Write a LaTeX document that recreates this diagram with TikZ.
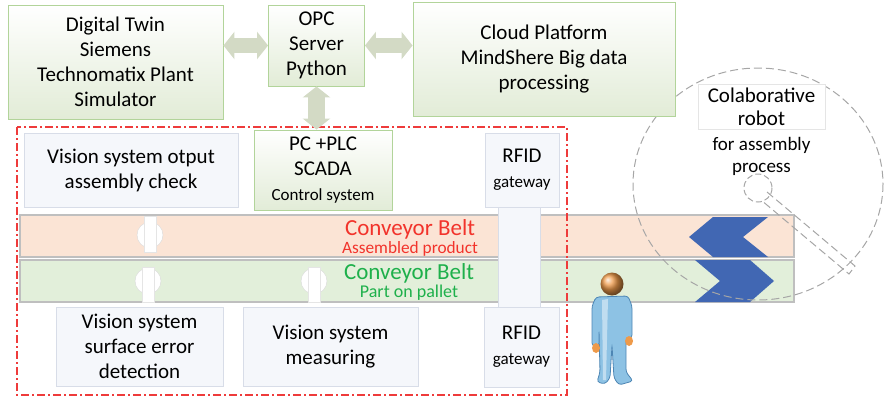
\documentclass[tikz,border=0pt]{standalone}
\usepackage{fontspec}
\setmainfont{Carlito}
\usetikzlibrary{arrows.meta, positioning}

\definecolor{BoxGreen}{HTML}{E2ECD7}
\definecolor{BoxEdge}{HTML}{B2D49A}
\definecolor{PanelFill}{HTML}{F5F7FB}
\definecolor{PanelEdge}{HTML}{D8DDE8}
\definecolor{ArrowGreen}{HTML}{D3DAC5}
\definecolor{BeltOrange}{HTML}{FBE4D5}
\definecolor{BeltGreen}{HTML}{E2EFDA}
\definecolor{BeltEdge}{HTML}{BFBFBF}
\definecolor{BeltRed}{HTML}{F2332B}
\definecolor{BeltGreenText}{HTML}{1EB04B}
\definecolor{FrameRed}{HTML}{EE3B3B}
\definecolor{ChevronBlue}{HTML}{4167B3}
\definecolor{RobotGray}{HTML}{A6A6A6}
\definecolor{PersonBlue}{HTML}{8DC2E4}
\definecolor{PersonEdge}{HTML}{4D86B4}
\definecolor{PersonSkin}{HTML}{EE9A4A}

\newcommand{\txtbig}{\fontsize{21}{25}\selectfont}
\newcommand{\txtmid}{\fontsize{19}{22}\selectfont}
\newcommand{\txtsmall}{\fontsize{17}{19}\selectfont}
\newcommand{\txtbelt}{\fontsize{23}{18}\selectfont}

\begin{document}
\begin{tikzpicture}[x=1pt, y=-1pt,
    greenbox/.style={draw=BoxEdge, line width=0.9pt, top color=white,
                     bottom color=BoxGreen, align=center, font=\txtbig},
    panelbox/.style={draw=PanelEdge, line width=0.9pt, fill=PanelFill,
                     align=center, font=\txtbig},
    beltbox/.style={draw=BeltEdge, line width=1.4pt, minimum width=774pt,
                    minimum height=42pt},
    fatarrow/.style={draw=ArrowGreen, line width=15pt,
                     {Triangle[width=27pt,length=11pt]}-{Triangle[width=27pt,length=11pt]}},
    robotline/.style={draw=RobotGray, line width=1pt, dash pattern=on 8pt off 4pt}]
  \useasboundingbox (0,0) rectangle (884,397);

  % Conveyor belts
  \node[beltbox, fill=BeltOrange] (beltup) at (407,236) {};
  \node[beltbox, fill=BeltGreen] (beltdown) at (407,281) {};

  % Camera sensors on the belts
  \filldraw[fill=white, draw=gray!30] (150,235) circle (13);
  \filldraw[fill=white, draw=gray!20] (144,216) rectangle (156,252);
  \filldraw[fill=white, draw=gray!30] (148,281) circle (13);
  \filldraw[fill=white, draw=gray!20] (142,267) rectangle (154,302);
  \filldraw[fill=white, draw=gray!30] (314,281) circle (13);
  \filldraw[fill=white, draw=gray!20] (308,267) rectangle (320,302);

  \node[font=\txtbelt, text=BeltRed, align=center] (labelup) at (410,238)
    {Conveyor Belt\\{\fontsize{17.3}{18}\selectfont Assembled product}};
  \node[font=\txtbelt, text=BeltGreenText, align=center] (labeldown) at (409,282)
    {Conveyor Belt\\{\fontsize{18}{18}\selectfont Part on pallet}};

  % Pallet direction marks
  \fill[ChevronBlue] (689,237) -- (713,217) -- (768,217) -- (743,237)
    -- (768,257) -- (713,257) -- cycle;
  \fill[ChevronBlue] (695,260) -- (750,260) -- (774,281) -- (750,302)
    -- (695,302) -- (720,281) -- cycle;

  % RFID gate across both belts
  \filldraw[fill=PanelFill, draw=PanelEdge] (498,207) rectangle (540,307);

  % Robot workspace and arm
  \draw[robotline] (758,184) ellipse [x radius=125, y radius=116];
  \draw[robotline, dash pattern=on 6pt off 3pt] (758,188) circle (14);
  \draw[robotline] (767,192) -- (855,266) -- (849,274) -- (761,200);

  % Upper level
  \node[greenbox, minimum width=215pt, minimum height=114pt] (twin) at (115.5,62)
    {Digital Twin\\Siemens\\Technomatix Plant\\Simulator};
  \node[greenbox, minimum width=96pt, minimum height=81pt] (opc) at (316.5,45.5)
    {OPC\\Server\\Python};
  \node[greenbox, minimum width=262pt, minimum height=114pt] (cloud) at (544,59)
    {Cloud Platform\\MindShere Big data\\processing};
  \node[draw=gray!20, fill=white, minimum width=127pt, minimum height=43pt,
        align=center, font=\fontsize{21}{23}\selectfont] (cobot) at (761.5,106.5)
    {Colaborative\\robot};
  \node[font=\txtmid, align=center, below=5pt of cobot] (cobotnote)
    {for assembly\\process};

  % Cell level
  \node[panelbox, minimum width=214pt, minimum height=74pt] (check) at (131,170)
    {Vision system otput\\assembly check};
  \node[greenbox, minimum width=138pt, minimum height=80pt] (plc) at (323,170)
    {PC +PLC\\SCADA\\{\txtsmall Control system}};
  \node[panelbox, minimum width=74pt, minimum height=74pt] (rfidtop) at (522,170)
    {RFID\\{\txtsmall gateway}};
  \node[panelbox, minimum width=167pt, minimum height=79pt] (surface) at (139.5,346.5)
    {Vision system\\surface error\\detection};
  \node[panelbox, minimum width=175pt, minimum height=79pt] (measure) at (330.5,346.5)
    {Vision system\\measuring};
  \node[panelbox, minimum width=75pt, minimum height=80pt] (rfidbot) at (521.5,347)
    {RFID\\{\txtsmall gateway}};

  % Production cell boundary
  \draw[FrameRed, line width=1.3pt, dash pattern=on 8pt off 3pt on 2pt off 3pt]
    (17,127) rectangle (567,395);

  % Data links
  \draw[fatarrow] (twin.east |- opc.west) -- (opc.west);
  \draw[fatarrow] (opc.east) -- (cloud.west |- opc.east);
  \draw[fatarrow, line width=17pt] (opc.south) -- (opc.south |- plc.north);

  % Operator
  \filldraw[fill=PersonBlue, draw=PersonEdge, line width=0.8pt, rounded corners=3pt]
    (596,297) -- (628,296) -- (632,306) -- (632,338) -- (626,338) -- (626,372)
    -- (633,381) -- (619,385) -- (614,378) -- (612,345) -- (610,378) -- (605,384)
    -- (597,382) -- (600,372) -- (599,330) -- (599,346) -- (592,346) -- (592,306) -- cycle;
  \fill[white, opacity=0.45] (602,300) -- (608,299) -- (606,380) -- (603,380) -- cycle;
  \fill[PersonSkin] (596,348) ellipse [x radius=4, y radius=5];
  \fill[PersonSkin] (629,341) ellipse [x radius=4, y radius=5];
  \shade[ball color=PersonSkin] (612,284) circle (11.5);
\end{tikzpicture}
\end{document}
